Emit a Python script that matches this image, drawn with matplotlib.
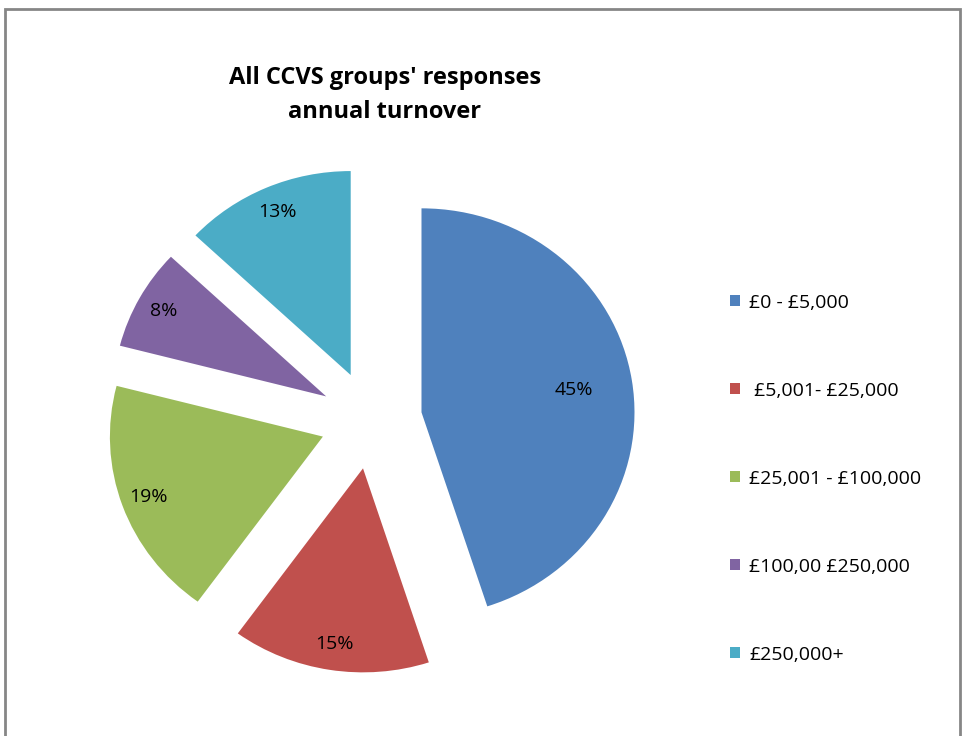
import matplotlib
matplotlib.use('Agg')
import matplotlib.pyplot as plt
from matplotlib.patches import Rectangle

# data
labels = ['£0 - £5,000', ' £5,001- £25,000', '£25,001 - £100,000',
          '£100,00 £250,000', '£250,000+']
shares = [45, 15, 19, 8, 13]
colors = ['#4F81BD', '#C0504D', '#9BBB59', '#8064A2', '#4BACC6']

W, H = 968, 736
fig = plt.figure(figsize=(W / 100, H / 100), dpi=100)
plt.rcParams['font.family'] = ['Open Sans', 'DejaVu Sans']

# axes placed in pixels so the pie centre sits where it does in the picture
cx, cy = 371, 420          # pie centre (px, from top)
rx, ry = 213, 204          # px per data unit
lim = 1.5
ax = fig.add_axes([(cx - lim * rx) / W, (H - cy - lim * ry) / H,
                   2 * lim * rx / W, 2 * lim * ry / H])

wedges, texts, autotexts = ax.pie(shares, colors=colors, startangle=90,
                                  counterclock=False, explode=[0.24] * 5,
                                  autopct='%1.0f%%', pctdistance=0.87,
                                  wedgeprops=dict(linewidth=0),
                                  textprops=dict(fontsize=14, color='black'))
# the big slice has its label further in
x, y = autotexts[0].get_position()
autotexts[0].set_position((x * 0.87, y * 0.86))
ax.set_aspect('auto')
ax.set_xlim(-lim, lim)
ax.set_ylim(-lim, lim)
ax.axis('off')

fig.text(385 / W, 1 - 95 / H, "All CCVS groups' responses\nannual turnover",
         ha='center', va='center', fontsize=17, fontweight='bold',
         linespacing=1.5)

leg = fig.legend(wedges, labels, loc='upper left',
                 bbox_to_anchor=(712 / W, 1 - 276 / H), frameon=False,
                 fontsize=14, handlelength=0.55, handleheight=0.55,
                 handletextpad=0.45, labelspacing=3.6)

# chart area border (bottom edge is off the picture)
fig.patches.append(Rectangle((5 / W, -0.05), 955 / W, 1.05 - 9 / H,
                             transform=fig.transFigure, fill=False,
                             edgecolor='#868686', linewidth=2))

fig.savefig('out.png', dpi=100)
